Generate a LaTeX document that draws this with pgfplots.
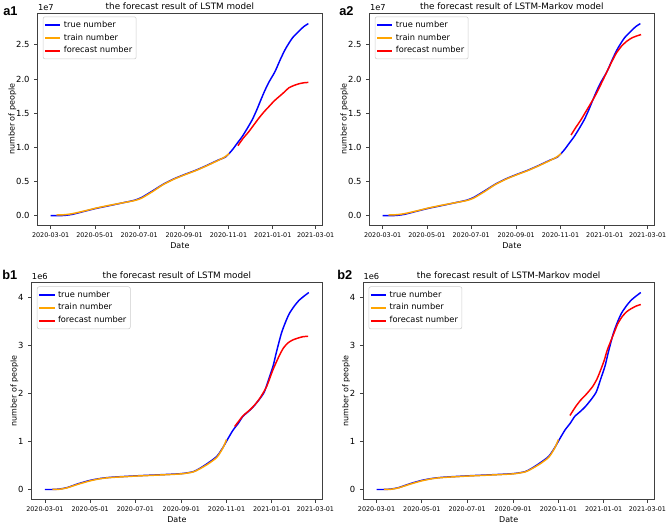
\documentclass[border=0pt]{standalone}
\usepackage{fontspec}
\setmainfont{DejaVu Sans}
\newfontfamily\panelfont{Liberation Sans}
\usepackage{pgfplots}
\usepackage{pgfplotstable}
\pgfplotsset{compat=1.18}

\definecolor{mplorange}{RGB}{255,165,0}

% day = days since 2020-03-01
\pgfplotstableread{
day val
0 0
10 0
20 0.005
30 0.02
45 0.06
62 0.105
80 0.145
100 0.19
115 0.225
125 0.265
140 0.36
155 0.46
170 0.54
185 0.605
200 0.665
215 0.735
230 0.81
241 0.86
250 0.96
257 1.06
264 1.16
271 1.28
278 1.41
284 1.55
289 1.68
295 1.83
301 1.96
306 2.05
310 2.13
317 2.30
324 2.45
333 2.60
342 2.70
349 2.77
355 2.81
}\trueA
\pgfplotstableread{
day val
8 0.01
20 0.015
30 0.03
45 0.065
62 0.11
80 0.15
100 0.19
115 0.22
125 0.255
140 0.35
155 0.455
170 0.535
185 0.60
200 0.66
215 0.73
230 0.805
240 0.86
246 0.91
}\trainA
\pgfplotstableread{
day val
258 1.025
265 1.13
273 1.23
280 1.33
287 1.43
294 1.52
301 1.60
308 1.68
315 1.745
322 1.81
328 1.87
335 1.905
342 1.93
349 1.945
355 1.95
}\lstmA
\pgfplotstableread{
day val
259.5 1.18
266 1.29
273 1.40
282 1.56
292 1.74
301 1.93
310 2.13
316 2.26
322 2.38
329 2.48
336 2.55
343 2.60
350 2.63
356 2.65
}\markovA
\pgfplotstableread{
day val
0 0
10 0
20 0.01
30 0.04
45 0.12
61 0.19
75 0.23
90 0.255
124 0.285
160 0.31
184 0.33
200 0.37
209 0.44
220 0.55
232 0.69
240 0.87
247 1.06
254 1.24
261 1.38
267 1.52
275 1.63
281 1.72
289 1.87
296 2.03
302 2.30
308 2.58
312 2.84
319 3.25
325 3.50
330 3.67
337 3.83
343 3.94
350 4.03
356 4.10
}\trueB
\pgfplotstableread{
day val
10 0
20 0.005
30 0.035
45 0.11
61 0.18
75 0.225
90 0.25
124 0.28
160 0.305
184 0.325
200 0.365
209 0.43
220 0.53
232 0.67
240 0.86
245 1.04
}\trainB
\pgfplotstableread{
day val
256 1.31
267 1.53
276 1.65
283 1.76
290 1.90
299 2.14
307.6 2.49
316.6 2.80
322 2.95
327.8 3.05
334 3.11
341 3.15
348 3.18
355 3.19
}\lstmB
\pgfplotstableread{
day val
260.6 1.54
268 1.72
275 1.86
283 1.99
291 2.14
297 2.30
302 2.49
307 2.70
311 2.91
320 3.26
325 3.45
331 3.60
337 3.70
342.6 3.76
350 3.82
356 3.85
}\markovB

\pgfplotsset{
  panel/.style={
    scale only axis, anchor=south west, clip=false,
    xmin=-17.8, xmax=373.8,
    xtick={0,61,122,184,245,306,365},
    xticklabels={2020-03-01,2020-05-01,2020-07-01,2020-09-01,2020-11-01,2021-01-01,2021-03-01},
    tick align=outside, xtick pos=bottom, ytick pos=left,
    major tick length=2.6pt,
    axis line style={black!75, line width=0.6pt},
    tick style={black!75, line width=0.6pt},
    /pgf/number format/assume math mode=true,
    x tick label style={font=\fontsize{4.8}{5}\selectfont, yshift=0.5pt},
    y tick label style={font=\fontsize{6.3}{7}\selectfont},
    scaled y ticks=false,
    xlabel=Date, ylabel=number of people,
    label style={font=\fontsize{6}{7}\selectfont},
    xlabel style={yshift=3pt},
    ylabel style={yshift=-7pt},
    every axis title shift=0pt,
    title style={font=\fontsize{6.6}{8}\selectfont, at={(0.5,1)}, anchor=base, yshift=3pt},
    legend cell align=left,
    legend style={at={(0.018,0.985)}, anchor=north west, draw=black!20,
      rounded corners=1.5pt, font=\fontsize{6.2}{7}\selectfont,
      inner sep=1pt, row sep=-0.5pt},
    legend image code/.code={\draw[#1, line width=1.2pt] (0cm,0cm) -- (0.4cm,0cm);},
    every axis plot/.append style={line width=1.1pt, smooth, tension=0.4},
  },
  pa/.style={ymin=-0.141, ymax=2.961, ytick={0,0.5,...,2.5},
    yticklabel style={/pgf/number format/.cd, fixed, fixed zerofill, precision=1}},
  pb/.style={ymin=-0.205, ymax=4.305, ytick={0,1,2,3,4},
    legend style={at={(0.018,0.9825)}}},
  mult/.style={extra description/.code={
    \node[anchor=base west, inner sep=0pt, font=\fontsize{6.2}{7}\selectfont]
      at ([yshift=2pt]rel axis cs:0,1) {#1};}},
}

\begin{document}
\begin{tikzpicture}
\useasboundingbox (0,0) rectangle (501pt,-392.25pt);

\begin{axis}[panel, pa, mult=1e7, at={(28.3pt,-169pt)}, width=213.2pt, height=159pt,
  title={the forecast result of LSTM model}]
\addplot[blue] table[x=day, y=val] {\trueA};
\addplot[mplorange] table[x=day, y=val] {\trainA};
\addplot[red] table[x=day, y=val] {\lstmA};
\legend{true number, train number, forecast number}
\end{axis}

\begin{axis}[panel, pa, mult=1e7, at={(277.3pt,-169pt)}, width=213.2pt, height=159pt,
  title={the forecast result of LSTM-Markov model}]
\addplot[blue] table[x=day, y=val] {\trueA};
\addplot[mplorange] table[x=day, y=val] {\trainA};
\addplot[red] table[x=day, y=val] {\markovA};
\legend{true number, train number, forecast number}
\end{axis}

\begin{axis}[panel, pb, mult=1e6, at={(23.8pt,-374.5pt)}, width=217.7pt, height=162.5pt,
  title={the forecast result of LSTM model}]
\addplot[blue] table[x=day, y=val] {\trueB};
\addplot[mplorange] table[x=day, y=val] {\trainB};
\addplot[red] table[x=day, y=val] {\lstmB};
\legend{true number, train number, forecast number}
\end{axis}

\begin{axis}[panel, pb, mult=1e6, at={(272.5pt,-374.5pt)}, width=218pt, height=162.5pt,
  title={the forecast result of LSTM-Markov model}]
\addplot[blue] table[x=day, y=val] {\trueB};
\addplot[mplorange] table[x=day, y=val] {\trainB};
\addplot[red] table[x=day, y=val] {\markovB};
\legend{true number, train number, forecast number}
\end{axis}

\node[anchor=base west, inner sep=0pt, font=\panelfont\bfseries\fontsize{9.6}{10}\selectfont] at (2.3pt,-11.3pt) {a1};
\node[anchor=base west, inner sep=0pt, font=\panelfont\bfseries\fontsize{9.6}{10}\selectfont] at (254.3pt,-11.3pt) {a2};
\node[anchor=base west, inner sep=0pt, font=\panelfont\bfseries\fontsize{9.6}{10}\selectfont] at (1.5pt,-210pt) {b1};
\node[anchor=base west, inner sep=0pt, font=\panelfont\bfseries\fontsize{9.6}{10}\selectfont] at (252.8pt,-210pt) {b2};
\end{tikzpicture}
\end{document}
